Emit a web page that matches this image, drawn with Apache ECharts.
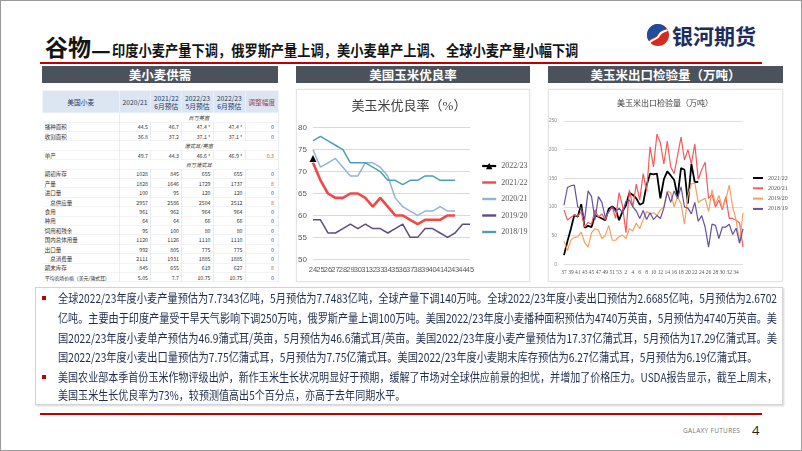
<!DOCTYPE html>
<html>
<head>
<meta charset="utf-8">
<script src="https://cdn.jsdelivr.net/npm/echarts/dist/echarts.min.js"></script>
<style>
html,body{margin:0;padding:0;background:#fff;}
body{width:802px;height:451px;position:relative;overflow:hidden;font-family:"Noto Sans CJK SC","Noto Sans",sans-serif;}
.abs{position:absolute;}
#frame{left:0;top:0;width:802px;height:451px;box-sizing:border-box;border:1px solid #9a9a9a;}
.hdr{position:absolute;top:66px;height:17px;background:#4b525b;color:#fff;font-weight:bold;font-size:12.5px;line-height:17px;text-align:center;}
.card{position:absolute;top:89px;height:193px;background:#fff;border:1px solid #e4e4e4;box-shadow:0 0 2px rgba(0,0,0,0.08);box-sizing:border-box;}
#tblWrap{position:absolute;left:42px;top:89.5px;width:472px;transform:scale(0.5);transform-origin:0 0;}
#tblWrap table{border-collapse:collapse;table-layout:fixed;width:472px;font-family:"Noto Sans CJK SC",sans-serif;}
#tblWrap th{background:#dce6f2;color:#1f3864;font-weight:normal;font-size:13.5px;line-height:16px;height:44px;padding:0;border:1px solid #f4f7fb;text-align:center;}
#tblWrap td{height:17.8px;padding:0 5px;line-height:17px;font-size:10.5px;color:#333;text-align:right;white-space:nowrap;overflow:visible;border-bottom:1px solid #e6e6e6;border-right:1px solid #cfdcec;}
#tblWrap td.lab{text-align:left;font-size:11px;color:#333;}
#tblWrap td.ind{padding-left:16px;}
#tblWrap td.unit{text-align:center;font-style:italic;color:#444;font-size:10.5px;}
.tl{position:absolute;left:58px;white-space:nowrap;font-size:12px;line-height:14px;color:#1f2d4d;transform-origin:0 50%;}
.bul{position:absolute;left:42px;width:4px;height:4px;background:#c00000;}
</style>
</head>
<body>
<div id="frame" class="abs"></div>

<div id="title" class="abs" style="left:45px;top:35px;display:flex;align-items:baseline;line-height:1;white-space:nowrap;color:#141414;font-weight:bold;">
  <span id="tMain" style="font-size:23px;"></span><span id="tDash" style="font-size:15px;display:inline-block;transform:scaleX(1.45) scaleY(1.6);transform-origin:0 60%;margin-right:7px;"></span><span id="tSub" style="font-size:15px;display:inline-block;transform-origin:0 50%;"></span>
</div>

<svg class="abs" style="left:646px;top:23px" width="24" height="24" viewBox="0 0 24 24">
  <circle cx="12" cy="12" r="11" fill="#d52b1e"/>
  <path d="M12 1 A11 11 0 0 0 2.5 17.5 C6 13.5 9.5 15.5 11.5 12 C13.5 8.5 16.5 8.5 20.5 6 A11 11 0 0 0 12 1Z" fill="#1d4e9e"/>
  <path d="M3.5 19.5 C8.5 14.5 11 17 13 12.5 C15 8 18 9 21.5 7" stroke="#fff" stroke-width="2" fill="none"/>
</svg>
<div id="logoTxt" class="abs" style="left:672px;top:24px;font-size:21px;line-height:22px;font-weight:bold;color:#1e2c5c;"></div>

<div class="abs" style="left:40px;top:62px;width:722px;height:2px;background:#c00000;"></div>

<div class="hdr" id="h0" style="left:42px;width:236px;"></div>
<div class="hdr" id="h1" style="left:296px;width:234px;"></div>
<div class="hdr" id="h2" style="left:548px;width:235px;"></div>

<div class="card" style="left:296px;width:234px;"></div>
<div class="card" style="left:548px;width:235px;"></div>

<div id="tblWrap"></div>

<div id="goodChart" class="abs" style="left:296px;top:86px;width:260px;height:200px;"></div>
<div id="expChart" class="abs" style="left:548px;top:86px;width:254px;height:200px;"></div>

<div class="abs" style="left:35px;top:287px;width:748px;height:118px;box-sizing:border-box;border:1px solid #d4d4d4;box-shadow:1px 1px 2px rgba(0,0,0,0.18);"></div>
<div id="txt"></div>

<div class="abs" style="left:40px;top:413px;width:722px;height:2px;background:#c00000;"></div>
<div id="foot1" class="abs" style="left:683px;top:426px;font-size:6.5px;line-height:9px;color:#777;letter-spacing:0.3px;font-family:'Open Sans',sans-serif;"></div>
<div id="foot2" class="abs" style="left:752px;top:422px;font-size:13px;line-height:16px;color:#222;font-family:'Open Sans',sans-serif;"></div>

<script>
// ---------- text content ----------
const titleMain = '谷物';
const titleDash = '—';
const titleSub = '印度小麦产量下调，俄罗斯产量上调，美小麦单产上调、 全球小麦产量小幅下调';
const logoText = '银河期货';
const panelTitles = ['美小麦供需', '美国玉米优良率', '美玉米出口检验量（万吨）'];
const footerBrand = 'GALAXY FUTURES';
const pageNo = '4';

// ---------- table data ----------
const tableHeaders = ['美国小麦', '2020/21', '2021/22<br>6月预估', '2022/23<br>5月预估', '2022/23<br>6月预估', '调整幅度'];
const tableRowLabels = ['百万英亩', '播种面积', '收割面积', '蒲式耳/英亩', '单产', '百万蒲式耳', '期初库存', '产量', '进口量', '总供应量', '食用', '种用', '饲用和残余', '国内总体用量', '出口量', '总消费量', '期末库存', '平均农场价格（美元/蒲式耳）'];
const unitRowIdx = [0, 3, 5];
const indentRows = ['总供应量', '总消费量'];
const starredRows = ['播种面积', '收割面积', '单产'];
const val2020_21 = [null, 44.5, 36.8, null, 49.7, null, 1028, 1828, 100, 2957, 961, 64, 95, 1120, 992, 2111, 845, 5.05];
const val2021_22 = [null, 46.7, 37.2, null, 44.3, null, 845, 1646, 95, 2586, 962, 64, 100, 1126, 805, 1931, 655, 7.7];
const val2022_23May = [null, 47.4, 37.1, null, 46.6, null, 655, 1729, 120, 2504, 964, 66, 80, 1110, 775, 1885, 619, 10.75];
const val2022_23Jun = [null, 47.4, 37.1, null, 46.9, null, 655, 1737, 120, 2512, 964, 66, 80, 1110, 775, 1885, 627, 10.75];
const valAdjust = [null, 0, 0, null, 0.3, null, 0, 8, 0, 8, 0, 0, 0, 0, 0, 0, 8, 0];

// ---------- corn good/excellent ratio (%) ----------
const goodTitle = '美玉米优良率（%）';
const goodSeriesNames = ['2022/23', '2021/22', '2020/21', '2019/20', '2018/19'];
const goodWeeks = ['24','25','26','27','28','29','30','31','32','33','34','35','36','37','38','39','40','41','42','43','44','45'];
const goodYAxisTicks = [50, 55, 60, 65, 70, 75, 80];
const good2022_23 = [73];
const good2021_22 = [72, 68, 65, 64, 64, 65, 65, 64, 62, 64, 62, 60, 60, 59, 58, 59, 59, 59, 60, 60];
const good2020_21 = [75, 71, 72, 73, 71, 69, 69, 72, 72, 71, 69, 64, 62, 61, 60, 61, 61, 62, 61, 61];
const good2019_20 = [59, 59, 56, 56, 57, 58, 57, 58, 57, 57, 56, 57, 58, 55, 55, 57, 57, 56, 55, 56, 58, 58];
const good2018_19 = [77, 78, 77, 76, 75, 72, 72, 72, 71, 70, 68, 68, 67, 68, 68, 69, 69, 68, 68, 68];

// ---------- corn export inspections (10k tonnes) ----------
const expTitle = '美玉米出口检验量（万吨）';
const expSeriesNames = ['2021/22', '2020/21', '2019/20', '2018/19'];
const expWeeks = ['37','38','39','40','41','42','43','44','45','46','47','48','49','50','51','52','53',
  '1','2','3','4','5','6','7','8','9','10','11','12','13','14','15','16','17','18','19','20',
  '21','22','23','24','25','26','27','28','29','30','31','32','33','34','35','36'];
const expYAxisTicks = [0, 50, 100, 150, 200, 250];
const exp2021_22 = [16,40,62,86,83, 105,64,67,65,85, 83,80,77,97,101, 96,77,92,103,125, 121,115,104,107,138, 158,157,158,115,148, 162,155,147,118,168, 165,106,175,143,144];
const exp2020_21 = [95,77,82,86,84, 92,65,73,70,95, 82,88,78,92,100, 80,125,102,55,130, 100,140,112,158,128, 205,170,227,212,175, 215,170,158,190,222, 182,200,175,210,148, 165,178,115,122,100, 112,95,118,80,80, 77,72,30];
const exp2019_20 = [40,24,42,47,48, 56,38,30,55,62, 60,45,50,68,42, 42,48,51,45,62, 58,72,62,78,92, 88,90,85,95,100, 128,125,100,118,105, 70,120,140,142,108, 112,115,92,130,105, 120,98,112,138,100, 77,37,90];
const exp2018_19 = [103,134,137,138,100, 98,78,128,118,78, 118,108,82,92,100, 92,98,90,110,112, 100,93,80,94,78, 90,78,85,80,98, 126,108,128,115,135, 100,98,88,108,75, 85,65,30,70,68, 45,65,65,70,52, 63,37,62];

// ---------- commentary ----------
const para1Lines = [
  '全球2022/23年度小麦产量预估为7.7343亿吨，5月预估为7.7483亿吨，全球产量下调140万吨。全球2022/23年度小麦出口预估为2.6685亿吨，5月预估为2.6702',
  '亿吨。主要由于印度产量受干旱天气影响下调250万吨，俄罗斯产量上调100万吨。美国2022/23年度小麦播种面积预估为4740万英亩，5月预估为4740万英亩。美',
  '国2022/23年度小麦单产预估为46.9蒲式耳/英亩，5月预估为46.6蒲式耳/英亩。美国2022/23年度小麦产量预估为17.37亿蒲式耳，5月预估为17.29亿蒲式耳。美',
  '国2022/23年度小麦出口量预估为7.75亿蒲式耳，5月预估为7.75亿蒲式耳。美国2022/23年度小麦期末库存预估为6.27亿蒲式耳，5月预估为6.19亿蒲式耳。'
];
const para2Lines = [
  '美国农业部本季首份玉米作物评级出炉，新作玉米生长状况明显好于预期，缓解了市场对全球供应前景的担忧，并增加了价格压力。USDA报告显示，截至上周末，',
  '美国玉米生长优良率为73%，较预测值高出5个百分点，亦高于去年同期水平。'
];

// ================= layout / rendering =================
document.getElementById('tMain').textContent = titleMain;
document.getElementById('tDash').textContent = titleDash;
document.getElementById('tSub').textContent = titleSub;
document.getElementById('logoTxt').textContent = logoText;
['h0','h1','h2'].forEach((id, i) => document.getElementById(id).textContent = panelTitles[i]);
document.getElementById('foot1').textContent = footerBrand;
document.getElementById('foot2').textContent = pageNo;

(function () {
  const sub = document.getElementById('tSub');
  const r = sub.getBoundingClientRect();
  sub.style.transform = 'scaleX(' + ((578 - r.left) / r.width) + ')';
})();

// table
(function () {
  const colW = [154, 63, 62, 63, 64, 66];
  let h = '<table><colgroup>' + colW.map(w => '<col style="width:' + w + 'px">').join('') + '</colgroup><tr>';
  tableHeaders.forEach((t, i) => {
    h += '<th' + (i === 5 ? ' style="color:#a0405e"' : '') + '>' + t + '</th>';
  });
  h += '</tr>';
  const fmt = (v, lab) => v === null ? '' : (String(v) + (starredRows.includes(lab) ? ' *' : ''));
  tableRowLabels.forEach((lab, i) => {
    if (unitRowIdx.includes(i)) {
      h += '<tr><td class="lab"></td><td colspan="5" class="unit">' + lab + '</td></tr>';
      return;
    }
    const cls = 'lab' + (indentRows.includes(lab) ? ' ind' : '');
    const lblStyle = lab.length > 10 ? ' style="font-size:10px;letter-spacing:-0.3px"' : '';
    h += '<tr><td class="' + cls + '"' + lblStyle + '>' + lab + '</td>';
    h += '<td>' + fmt(val2020_21[i], '') + '</td>';
    h += '<td>' + fmt(val2021_22[i], '') + '</td>';
    h += '<td>' + fmt(val2022_23May[i], lab) + '</td>';
    h += '<td>' + fmt(val2022_23Jun[i], lab) + '</td>';
    const a = valAdjust[i];
    h += '<td style="color:' + (a === 0 ? '#2850e6' : '#d0503c') + ';text-align:right;padding-right:8px">' + a + '</td></tr>';
  });
  h += '</table>';
  document.getElementById('tblWrap').innerHTML = h;
})();

// commentary lines
(function () {
  const box = document.getElementById('txt');
  const fullW = 719;
  function para(lines, centers) {
    let lastScale = 0.86;
    lines.forEach((t, i) => {
      const d = document.createElement('div');
      d.className = 'tl';
      d.textContent = t;
      d.style.top = (centers[i] - 7) + 'px';
      box.appendChild(d);
      const w = d.getBoundingClientRect().width;
      let s;
      if (i < lines.length - 1) { s = fullW / w; lastScale = s; } else { s = lastScale; }
      d.style.transform = 'scaleX(' + s + ')';
    });
  }
  para(para1Lines, [298, 318, 338, 357]);
  para(para2Lines, [377, 395]);
  [298, 377].forEach(y => {
    const b = document.createElement('div');
    b.className = 'bul';
    b.style.top = (y - 2) + 'px';
    box.appendChild(b);
  });
})();

const serifFont = '"Liberation Serif","DejaVu Serif","Noto Sans CJK SC",serif';

// ---------- chart 1: good/excellent ratio ----------
const goodColors = ['#000000', '#f04848', '#95b3d7', '#5e4c80', '#4a9fb8'];
const goodWidths = [2, 2.6, 1.5, 1.5, 1.5];
const goodData = [good2022_23, good2021_22, good2020_21, good2019_20, good2018_19];
const goodChart = echarts.init(document.getElementById('goodChart'));
goodChart.setOption({
  animation: false,
  graphic: [{
    type: 'text', x: 113, y: 21,
    style: { text: goodTitle, fill: '#404040', fontSize: 13, fontFamily: serifFont, align: 'center', verticalAlign: 'middle' }
  }],
  legend: {
    orient: 'vertical', left: 180, top: 71, padding: 5, itemWidth: 14, itemHeight: 8, itemGap: 8.5,
    textStyle: { fontSize: 8, color: '#595959', fontFamily: serifFont },
    data: goodSeriesNames.map((n, i) => i === 0 ? { name: n, lineStyle: { width: 2.2 } }
      : { name: n, itemStyle: { opacity: 0 }, lineStyle: { width: 2.4 } })
  },
  grid: { left: 17, right: 86, top: 41.7, bottom: 26.7, containLabel: false, outerBoundsMode: 'none' },
  xAxis: {
    type: 'category', data: goodWeeks, boundaryGap: false,
    axisLine: { show: false }, axisTick: { show: false },
    axisLabel: { interval: 0, fontSize: 7.5, color: '#595959', margin: 7 }
  },
  yAxis: {
    type: 'value', min: goodYAxisTicks[0], max: goodYAxisTicks[goodYAxisTicks.length - 1], interval: 5,
    axisLine: { show: false }, axisTick: { show: false },
    axisLabel: { fontSize: 8, color: '#595959', margin: 6 },
    splitLine: { lineStyle: { color: '#d9d9d9', width: 1 } }
  },
  series: goodSeriesNames.map((n, i) => ({
    name: n, type: 'line', data: goodData[i],
    symbol: i === 0 ? 'triangle' : 'none', symbolSize: 7, showSymbol: i === 0,
    itemStyle: { color: goodColors[i] }, lineStyle: { color: goodColors[i], width: goodWidths[i] }
  }))
});

// ---------- chart 2: export inspections ----------
const expColors = ['#000000', '#f55a5a', '#f5a060', '#6650a0'];
const expWidths = [1.8, 1.2, 1.2, 1.2];
const expData = [exp2021_22, exp2020_21, exp2019_20, exp2018_19];
const expChart = echarts.init(document.getElementById('expChart'));
expChart.setOption({
  animation: false,
  graphic: [{
    type: 'text', x: 117, y: 18,
    style: { text: expTitle, fill: '#404040', fontSize: 8, fontFamily: serifFont, align: 'center', verticalAlign: 'middle' }
  }],
  legend: {
    orient: 'vertical', left: 199, top: 84, padding: 5, itemWidth: 10, itemHeight: 6, itemGap: 4.3,
    textStyle: { fontSize: 6, lineHeight: 6, color: '#595959', fontFamily: serifFont },
    data: expSeriesNames.map(n => ({ name: n, itemStyle: { opacity: 0 }, lineStyle: { width: 2 } }))
  },
  grid: { left: 16, right: 59, top: 35, bottom: 21.7, containLabel: false, outerBoundsMode: 'none' },
  xAxis: {
    type: 'category', data: expWeeks, boundaryGap: false,
    axisLine: { show: false }, axisTick: { show: false },
    axisLabel: { interval: (idx) => idx % 2 === 0 && idx <= 50, fontSize: 5.5, color: '#595959', margin: 6, fontFamily: serifFont }
  },
  yAxis: {
    type: 'value', min: expYAxisTicks[0], max: expYAxisTicks[expYAxisTicks.length - 1], interval: 50,
    axisLine: { show: false }, axisTick: { show: false },
    axisLabel: { fontSize: 5, color: '#8c8c8c', margin: 7 },
    splitLine: { lineStyle: { color: '#e0e0e0', width: 1 } }
  },
  series: expSeriesNames.map((n, i) => ({
    name: n, type: 'line', data: expData[i], symbol: 'none',
    itemStyle: { color: expColors[i] }, lineStyle: { color: expColors[i], width: expWidths[i] }
  }))
});
</script>
</body>
</html>
